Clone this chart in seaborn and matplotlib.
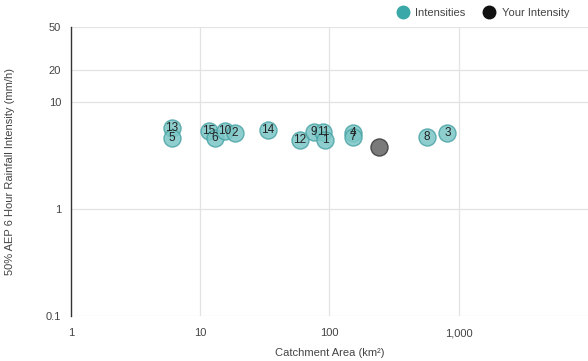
import matplotlib
matplotlib.use("Agg")
import matplotlib.pyplot as plt
from matplotlib.lines import Line2D
import seaborn as sns
import pandas as pd

# Catchment areas (km²) and 50% AEP 6-hour rainfall intensities (mm/h)
site_labels = ["13", "5", "15", "6", "10", "2", "14", "12", "9", "11", "1", "4", "7", "8", "3"]
catchment_area = [6.0, 6.0, 11.7, 12.9, 15.5, 18.5, 33.4, 58.7, 75.7, 88.8, 93.1, 151, 152, 568, 818]
intensity = [5.68, 4.58, 5.36, 4.58, 5.36, 5.10, 5.47, 4.41, 5.28, 5.28, 4.41, 5.10, 4.71, 4.74, 5.10]

your_area = [243]
your_intensity = [3.77]

x_ticks = [1, 10, 100, 1000]
x_tick_labels = ["1", "10", "100", "1,000"]
y_ticks = [0.1, 1, 10, 20, 50]
y_tick_labels = ["0.1", "1", "10", "20", "50"]

sns.set_theme(style="white")
plt.rcParams["font.family"] = ["Liberation Sans", "DejaVu Sans"]

df = pd.DataFrame({"area": catchment_area, "intensity": intensity, "label": site_labels})
df_you = pd.DataFrame({"area": your_area, "intensity": your_intensity})

fig = plt.figure(figsize=(5.88, 3.61), dpi=100)
ax = fig.add_axes([0.1207, 0.1247, 0.8793, 0.8005])
ax.set_xscale("log")
ax.set_yscale("log")
ax.set_xlim(1, 10000)
ax.set_ylim(0.1, 50)

# grid lines
for xv in [10, 100, 1000]:
    ax.axvline(xv, color="#e3e3e3", lw=0.9, zorder=0)
for yv in y_ticks:
    ax.axhline(yv, color="#e3e3e3", lw=0.9, zorder=0)

sns.scatterplot(data=df, x="area", y="intensity", ax=ax, s=150,
                color="#7cc6c6", edgecolor="#4aa3a5", linewidth=1.0, alpha=0.85,
                legend=False, zorder=3)
sns.scatterplot(data=df_you, x="area", y="intensity", ax=ax, s=150,
                color="#7a7a7a", edgecolor="#4a4a4a", linewidth=1.0,
                legend=False, zorder=4)

for _, r in df.iterrows():
    ax.text(r["area"], r["intensity"], r["label"], ha="center", va="center",
            fontsize=8.5, color="#222222", zorder=5)

ax.set_xticks(x_ticks)
ax.set_xticklabels(x_tick_labels)
ax.set_yticks(y_ticks)
ax.set_yticklabels(y_tick_labels)
ax.minorticks_off()
ax.tick_params(axis="both", length=0, labelsize=8, colors="#444444", pad=7)
ax.tick_params(axis="x", pad=9)

for side in ["top", "right", "bottom"]:
    ax.spines[side].set_visible(False)
ax.spines["left"].set_color("#333333")
ax.spines["left"].set_linewidth(1.0)

ax.set_xlabel("Catchment Area (km²)", fontsize=8, color="#444444", labelpad=7)
ax.set_ylabel("50% AEP 6 Hour Rainfall Intensity (mm/h)", fontsize=8, color="#444444", labelpad=22)

handles = [
    Line2D([], [], marker="o", linestyle="", markersize=9, markerfacecolor="#3aa8a8",
           markeredgecolor="#3aa8a8", label="Intensities"),
    Line2D([], [], marker="o", linestyle="", markersize=9, markerfacecolor="#111111",
           markeredgecolor="#111111", label="Your Intensity"),
]
fig.legend(handles=handles, loc="upper right", bbox_to_anchor=(0.985, 1.005), ncol=2,
           frameon=False, fontsize=8, handletextpad=0.1, columnspacing=1.2,
           labelcolor="#444444")

fig.savefig("out.png", dpi=100)
